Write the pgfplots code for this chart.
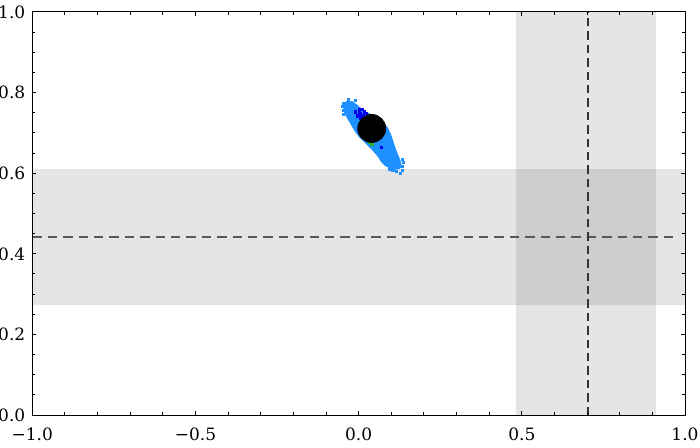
\documentclass[border=0pt]{standalone}
\usepackage{fontspec}
\setmainfont{DejaVu Serif}
\usepackage{pgfplots}
\pgfplotsset{compat=1.18}
\definecolor{dodger}{RGB}{30,144,255}
\definecolor{deepblue}{RGB}{0,0,235}
\definecolor{dotgreen}{RGB}{40,180,40}

\begin{document}
\begin{tikzpicture}
\begin{axis}[
  name=ax,
  scale only axis, width=326.3pt, height=201.5pt,
  xmin=-1, xmax=1, ymin=0, ymax=1,
  xtick={-1,-0.5,0,0.5,1}, xticklabels={−1.0,−0.5,0.0,0.5,1.0},
  ytick={0,0.2,0.4,0.6,0.8,1}, yticklabels={0.0,0.2,0.4,0.6,0.8,1.0},
  minor x tick num=4, minor y tick num=3,
  tick align=inside, major tick length=2pt, minor tick length=1.3pt,
  every tick/.style={black, line width=0.5pt},
  axis line style={line width=0.5pt},
  ticklabel style={font=\fontsize{8.5}{10}\selectfont},
  xticklabel style={yshift=-2.7pt},
  axis on top,
]
% shaded bands
\addplot[draw=none, fill=black, fill opacity=0.1] coordinates {(-1,0.273)(1,0.273)(1,0.610)(-1,0.610)(-1,0.273)};
\addplot[draw=none, fill=black, fill opacity=0.1] coordinates {(0.482,0)(0.911,0)(0.911,1)(0.482,1)(0.482,0)};
% reference lines
\addplot[color=black!65, line width=0.8pt, dash pattern=on 4.7pt off 3pt] coordinates {(-1,0.442)(0.98,0.442)};
\addplot[color=black!80, line width=0.6pt, dash pattern=on 4.2pt off 2.5pt] coordinates {(0.703,0)(0.703,1)};
% sample cloud
\addplot[fill=dodger, draw=dodger, line width=0.3pt] coordinates {
  (-0.036,0.779)(-0.020,0.778)(-0.006,0.770)(0.009,0.759)(0.022,0.751)(0.040,0.746)
  (0.058,0.739)(0.074,0.727)(0.089,0.712)(0.098,0.697)(0.104,0.682)(0.110,0.667)
  (0.117,0.652)(0.123,0.640)(0.129,0.627)(0.131,0.617)(0.124,0.610)(0.105,0.610)
  (0.082,0.618)(0.070,0.628)(0.058,0.643)(0.042,0.658)(0.027,0.670)(0.015,0.680)
  (0.002,0.690)(-0.010,0.703)(-0.019,0.715)(-0.028,0.728)(-0.037,0.740)(-0.044,0.752)
  (-0.046,0.764)(-0.044,0.774)(-0.036,0.779)};
\addplot[only marks, mark=square*, mark size=0.5pt, color=dodger] coordinates {
  (-0.048,0.774)(-0.030,0.782)(-0.048,0.757)(-0.047,0.745)(-0.011,0.780)
  (0.102,0.607)(0.115,0.604)(0.133,0.607)(0.134,0.618)(0.093,0.609)
  (0.137,0.626)(0.127,0.600)(-0.049,0.766)(0.133,0.634)(0.110,0.607)};
\addplot[only marks, mark=square*, mark size=0.55pt, color=deepblue] coordinates {
  (0.002,0.757)(0.011,0.759)(0.017,0.752)(0.004,0.747)(-0.005,0.742)
  (0.014,0.742)(0.023,0.749)(-0.011,0.752)(0.007,0.737)(0.069,0.665)};
\addplot[only marks, mark=square*, mark size=0.6pt, color=dotgreen] coordinates {
  (0.041,0.672)(0.035,0.677)};
% central estimate
\addplot[only marks, mark=*, mark size=7pt, color=black] coordinates {(0.040,0.711)};
\end{axis}
\pgfresetboundingbox
\path[use as bounding box] ([xshift=-16.15pt,yshift=-16pt]ax.south west) rectangle ([xshift=7.5pt,yshift=6pt]ax.north east);
\end{tikzpicture}
\end{document}
